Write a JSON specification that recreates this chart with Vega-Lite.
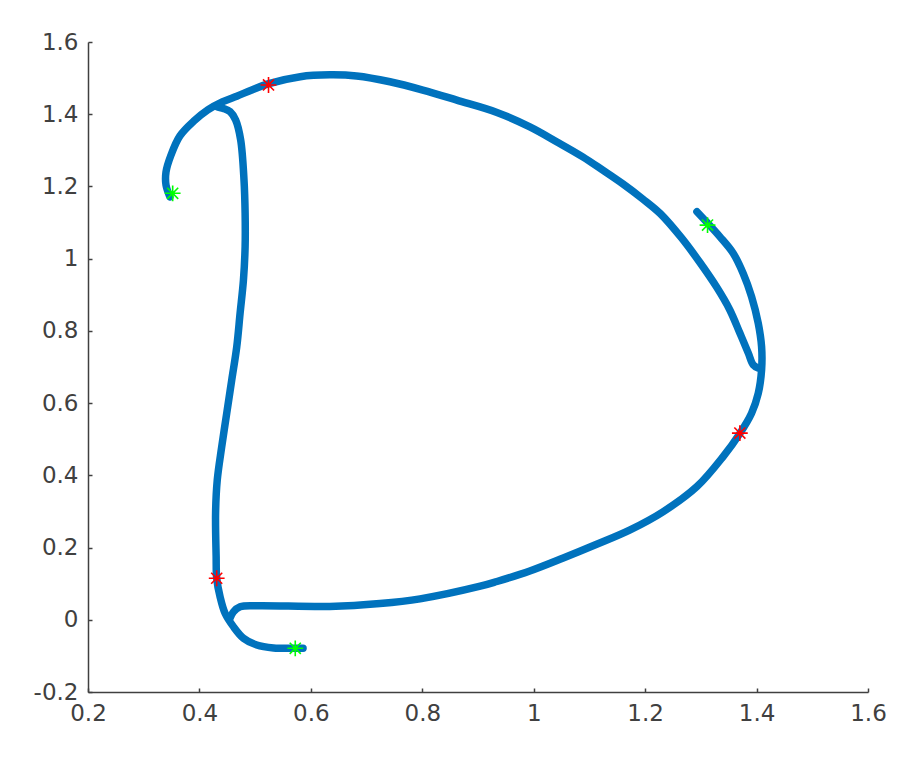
{
  "$schema": "https://vega.github.io/schema/vega-lite/v6.json",
  "width": 780,
  "height": 650,
  "autosize": {"type": "none"},
  "padding": {"left": 88, "top": 42, "right": 40, "bottom": 76},
  "background": "white",
  "config": {
    "view": {"stroke": null},
    "axis": {
      "grid": false,
      "title": null,
      "domainColor": "#404040",
      "domainWidth": 1.5,
      "tickColor": "#404040",
      "tickWidth": 1.5,
      "tickSize": -4,
      "labelColor": "#404040",
      "labelFont": "DejaVu Sans",
      "labelFontSize": 23,
      "labelPadding": 14,
      "labelFlush": false,
      "labelOverlap": false
    }
  },
  "datasets": {
    "curve": [
      {"branch": "C", "i": 0, "x": 0.347, "y": 1.171},
      {"branch": "C", "i": 1, "x": 0.340, "y": 1.204},
      {"branch": "C", "i": 2, "x": 0.340, "y": 1.240},
      {"branch": "C", "i": 3, "x": 0.349, "y": 1.287},
      {"branch": "C", "i": 4, "x": 0.365, "y": 1.340},
      {"branch": "C", "i": 5, "x": 0.390, "y": 1.381},
      {"branch": "C", "i": 6, "x": 0.415, "y": 1.412},
      {"branch": "C", "i": 7, "x": 0.441, "y": 1.434},
      {"branch": "C", "i": 8, "x": 0.467, "y": 1.450},
      {"branch": "C", "i": 9, "x": 0.494, "y": 1.467},
      {"branch": "C", "i": 10, "x": 0.523, "y": 1.484},
      {"branch": "C", "i": 11, "x": 0.581, "y": 1.504},
      {"branch": "C", "i": 12, "x": 0.634, "y": 1.509},
      {"branch": "C", "i": 13, "x": 0.682, "y": 1.506},
      {"branch": "C", "i": 14, "x": 0.742, "y": 1.490},
      {"branch": "C", "i": 15, "x": 0.801, "y": 1.467},
      {"branch": "C", "i": 16, "x": 0.862, "y": 1.439},
      {"branch": "C", "i": 17, "x": 0.934, "y": 1.405},
      {"branch": "C", "i": 18, "x": 0.993, "y": 1.365},
      {"branch": "C", "i": 19, "x": 1.041, "y": 1.324},
      {"branch": "C", "i": 20, "x": 1.088, "y": 1.282},
      {"branch": "C", "i": 21, "x": 1.124, "y": 1.245},
      {"branch": "C", "i": 22, "x": 1.160, "y": 1.207},
      {"branch": "C", "i": 23, "x": 1.196, "y": 1.165},
      {"branch": "C", "i": 24, "x": 1.227, "y": 1.125},
      {"branch": "C", "i": 25, "x": 1.265, "y": 1.058},
      {"branch": "C", "i": 26, "x": 1.298, "y": 0.990},
      {"branch": "C", "i": 27, "x": 1.328, "y": 0.922},
      {"branch": "C", "i": 28, "x": 1.352, "y": 0.858},
      {"branch": "C", "i": 29, "x": 1.370, "y": 0.794},
      {"branch": "C", "i": 30, "x": 1.385, "y": 0.739},
      {"branch": "C", "i": 31, "x": 1.394, "y": 0.706},
      {"branch": "C", "i": 32, "x": 1.403, "y": 0.697},

      {"branch": "A", "i": 0, "x": 1.293, "y": 1.130},
      {"branch": "A", "i": 1, "x": 1.310, "y": 1.102},
      {"branch": "A", "i": 2, "x": 1.334, "y": 1.061},
      {"branch": "A", "i": 3, "x": 1.358, "y": 1.015},
      {"branch": "A", "i": 4, "x": 1.376, "y": 0.959},
      {"branch": "A", "i": 5, "x": 1.391, "y": 0.895},
      {"branch": "A", "i": 6, "x": 1.403, "y": 0.821},
      {"branch": "A", "i": 7, "x": 1.409, "y": 0.756},
      {"branch": "A", "i": 8, "x": 1.409, "y": 0.692},
      {"branch": "A", "i": 9, "x": 1.403, "y": 0.627},
      {"branch": "A", "i": 10, "x": 1.391, "y": 0.572},
      {"branch": "A", "i": 11, "x": 1.370, "y": 0.516},
      {"branch": "A", "i": 12, "x": 1.340, "y": 0.452},
      {"branch": "A", "i": 13, "x": 1.293, "y": 0.369},
      {"branch": "A", "i": 14, "x": 1.232, "y": 0.299},
      {"branch": "A", "i": 15, "x": 1.173, "y": 0.249},
      {"branch": "A", "i": 16, "x": 1.113, "y": 0.209},
      {"branch": "A", "i": 17, "x": 1.053, "y": 0.171},
      {"branch": "A", "i": 18, "x": 0.993, "y": 0.135},
      {"branch": "A", "i": 19, "x": 0.934, "y": 0.106},
      {"branch": "A", "i": 20, "x": 0.904, "y": 0.093},
      {"branch": "A", "i": 21, "x": 0.796, "y": 0.058},
      {"branch": "A", "i": 22, "x": 0.724, "y": 0.045},
      {"branch": "A", "i": 23, "x": 0.634, "y": 0.037},
      {"branch": "A", "i": 24, "x": 0.503, "y": 0.039},
      {"branch": "A", "i": 25, "x": 0.473, "y": 0.036},
      {"branch": "A", "i": 26, "x": 0.461, "y": 0.022},
      {"branch": "A", "i": 27, "x": 0.455, "y": 0.005},

      {"branch": "B", "i": 0, "x": 0.586, "y": -0.079},
      {"branch": "B", "i": 1, "x": 0.572, "y": -0.079},
      {"branch": "B", "i": 2, "x": 0.533, "y": -0.078},
      {"branch": "B", "i": 3, "x": 0.503, "y": -0.070},
      {"branch": "B", "i": 4, "x": 0.479, "y": -0.051},
      {"branch": "B", "i": 5, "x": 0.461, "y": -0.019},
      {"branch": "B", "i": 6, "x": 0.446, "y": 0.018},
      {"branch": "B", "i": 7, "x": 0.437, "y": 0.064},
      {"branch": "B", "i": 8, "x": 0.431, "y": 0.115},
      {"branch": "B", "i": 9, "x": 0.430, "y": 0.175},
      {"branch": "B", "i": 10, "x": 0.429, "y": 0.296},
      {"branch": "B", "i": 11, "x": 0.432, "y": 0.387},
      {"branch": "B", "i": 12, "x": 0.440, "y": 0.479},
      {"branch": "B", "i": 13, "x": 0.449, "y": 0.572},
      {"branch": "B", "i": 14, "x": 0.458, "y": 0.664},
      {"branch": "B", "i": 15, "x": 0.467, "y": 0.756},
      {"branch": "B", "i": 16, "x": 0.473, "y": 0.849},
      {"branch": "B", "i": 17, "x": 0.479, "y": 0.941},
      {"branch": "B", "i": 18, "x": 0.482, "y": 1.033},
      {"branch": "B", "i": 19, "x": 0.482, "y": 1.126},
      {"branch": "B", "i": 20, "x": 0.480, "y": 1.218},
      {"branch": "B", "i": 21, "x": 0.474, "y": 1.329},
      {"branch": "B", "i": 22, "x": 0.465, "y": 1.384},
      {"branch": "B", "i": 23, "x": 0.455, "y": 1.407},
      {"branch": "B", "i": 24, "x": 0.443, "y": 1.416},
      {"branch": "B", "i": 25, "x": 0.433, "y": 1.420}
    ],
    "stars": [
      {"kind": "red", "x": 0.524, "y": 1.481},
      {"kind": "red", "x": 1.370, "y": 0.517},
      {"kind": "red", "x": 0.431, "y": 0.115},
      {"kind": "green", "x": 0.352, "y": 1.181},
      {"kind": "green", "x": 1.312, "y": 1.093},
      {"kind": "green", "x": 0.572, "y": -0.079}
    ]
  },
  "layer": [
    {
      "data": {"name": "curve"},
      "mark": {"type": "line", "color": "#0072BD", "strokeWidth": 7.5, "strokeCap": "round", "strokeJoin": "round", "interpolate": "catmull-rom"},
      "encoding": {
        "x": {"field": "x", "type": "quantitative",
              "scale": {"domain": [0.2, 1.6], "nice": false, "zero": false},
              "axis": {"values": [0.2, 0.4, 0.6, 0.8, 1, 1.2, 1.4, 1.6],
                       "labelExpr": "datum.value < 0 ? '-' + format(-datum.value, '~g') : format(datum.value, '~g')"}},
        "y": {"field": "y", "type": "quantitative",
              "scale": {"domain": [-0.2, 1.6], "nice": false, "zero": false},
              "axis": {"values": [-0.2, 0, 0.2, 0.4, 0.6, 0.8, 1, 1.2, 1.4, 1.6],
                       "labelExpr": "datum.value < 0 ? '-' + format(-datum.value, '~g') : format(datum.value, '~g')"}},
        "detail": {"field": "branch", "type": "nominal"},
        "order": {"field": "i", "type": "quantitative"}
      }
    },
    {
      "data": {"name": "stars"},
      "mark": {"type": "point", "shape": "M-1,0L1,0M0,-1L0,1M-0.7,-0.7L0.7,0.7M-0.7,0.7L0.7,-0.7", "filled": false, "size": 250, "strokeWidth": 1.6, "opacity": 1},
      "encoding": {
        "x": {"field": "x", "type": "quantitative"},
        "y": {"field": "y", "type": "quantitative"},
        "color": {"field": "kind", "type": "nominal",
                  "scale": {"domain": ["red", "green"], "range": ["#ff0000", "#00ff00"]},
                  "legend": null}
      }
    }
  ]
}
